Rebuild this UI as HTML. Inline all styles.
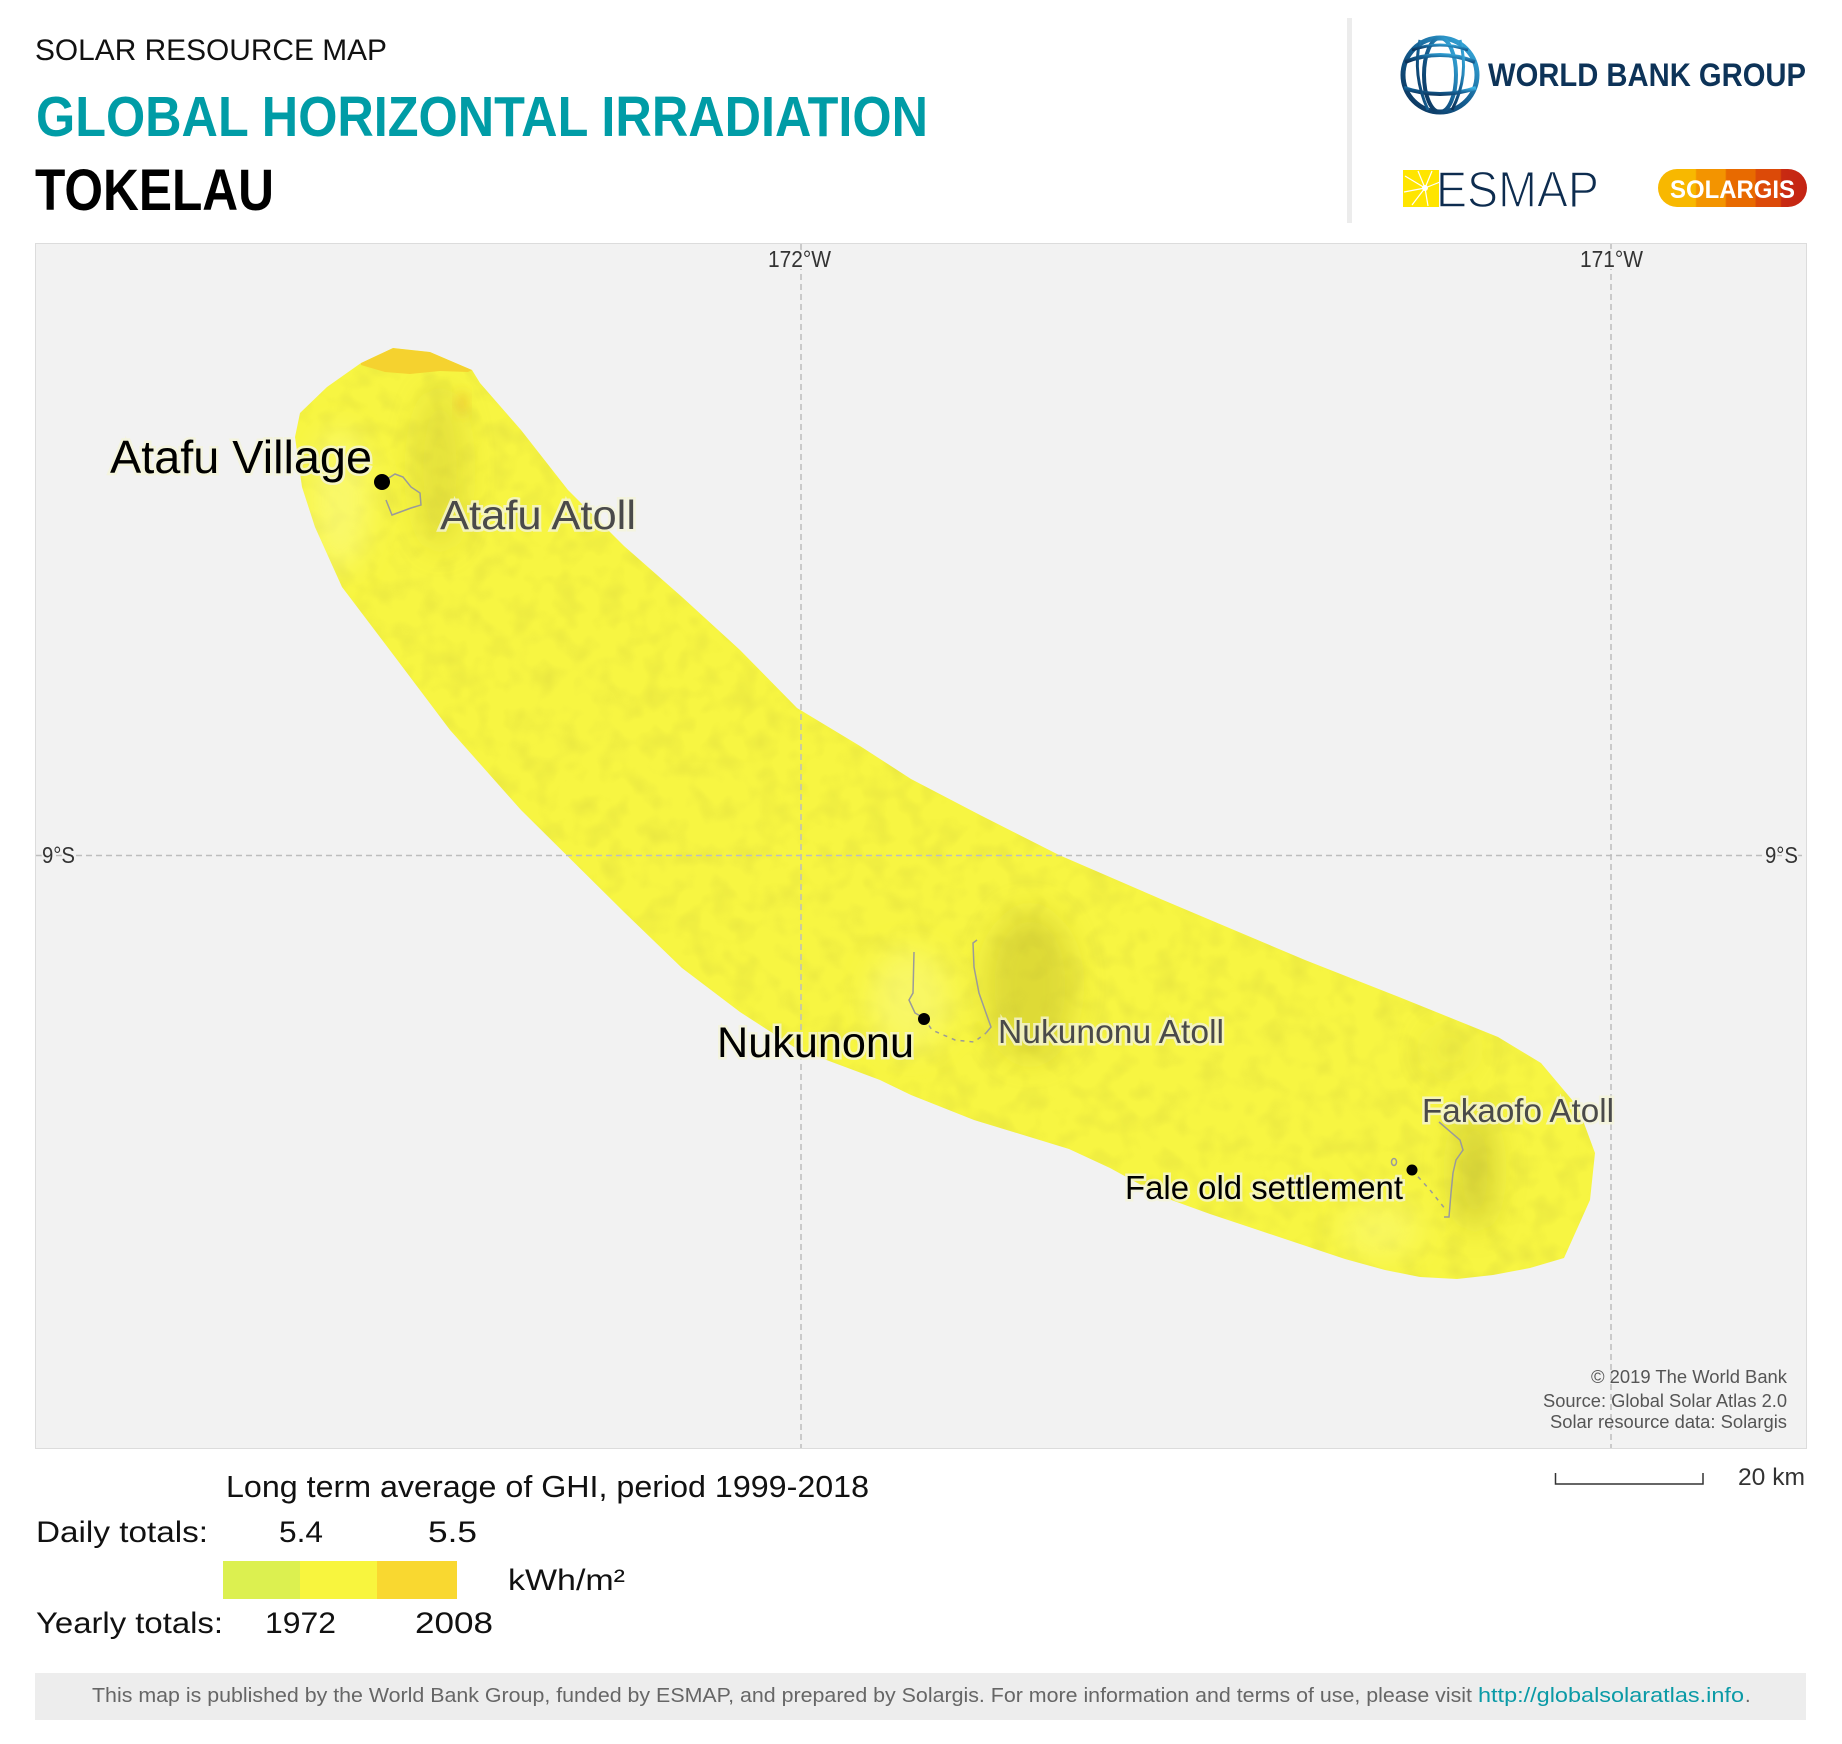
<!DOCTYPE html>
<html><head><meta charset="utf-8"><style>
html,body{margin:0;padding:0;background:#fff;}
svg{display:block;}
text{font-family:"Liberation Sans",Arial,sans-serif;}
</style></head><body>
<svg width="1842" height="1744" viewBox="0 0 1842 1744" xmlns="http://www.w3.org/2000/svg">
<defs>
<clipPath id="band"><path d="M361,363 L393,348 L430,352 L472,370 L480,383 L521,430 L568,490 L624,546 L682,597 L740,650 L797,708 L860,746 L911,779 L980,815 L1059,855 L1163,900 L1305,960 L1399,997 L1498,1037 L1541,1063 L1578,1107 L1595,1153 L1590,1200 L1564,1258 L1530,1268 L1493,1275 L1457,1279 L1420,1277 L1385,1270 L1345,1259 L1300,1244 L1258,1230 L1210,1214 L1163,1197 L1110,1168 L1069,1149 L1020,1134 L974,1120 L911,1095 L880,1080 L797,1049 L740,1012 L682,968 L624,912 L521,810 L450,730 L395,657 L342,587 L315,527 L302,487 L295,437 L300,413 L327,387 Z"/></clipPath>
<filter id="blur" x="-50%" y="-50%" width="200%" height="200%"><feGaussianBlur stdDeviation="14"/></filter>
<filter id="blur2" x="-50%" y="-50%" width="200%" height="200%"><feGaussianBlur stdDeviation="6"/></filter>
<filter id="noise" x="0" y="0" width="100%" height="100%">
<feTurbulence type="fractalNoise" baseFrequency="0.045" numOctaves="2" seed="3"/>
<feColorMatrix type="matrix" values="0 0 0 0 0.45  0 0 0 0 0.43  0 0 0 0 0.05  0 0 0 -2.2 1.25"/>
</filter>
<linearGradient id="globe" x1="0" y1="1" x2="1" y2="0">
<stop offset="0" stop-color="#0b2f55"/><stop offset="0.5" stop-color="#145e92"/><stop offset="1" stop-color="#3cb6e8"/></linearGradient>
<linearGradient id="sg" x1="0" y1="0" x2="1" y2="0">
<stop offset="0" stop-color="#f8b800"/><stop offset="0.25" stop-color="#f8b800"/>
<stop offset="0.26" stop-color="#f39400"/><stop offset="0.45" stop-color="#f39400"/>
<stop offset="0.46" stop-color="#e86a00"/><stop offset="0.65" stop-color="#e86a00"/>
<stop offset="0.66" stop-color="#dc4a08"/><stop offset="0.82" stop-color="#dc4a08"/>
<stop offset="0.83" stop-color="#c82a12"/><stop offset="1" stop-color="#c42414"/></linearGradient>
</defs>

<!-- Header -->
<text x="35" y="60" font-size="30" fill="#111" textLength="352" lengthAdjust="spacingAndGlyphs">SOLAR RESOURCE MAP</text>
<text x="36" y="136" font-size="57" font-weight="bold" fill="#009ca6" textLength="892" lengthAdjust="spacingAndGlyphs">GLOBAL HORIZONTAL IRRADIATION</text>
<text x="35" y="210" font-size="58" font-weight="bold" fill="#000" textLength="239" lengthAdjust="spacingAndGlyphs">TOKELAU</text>

<rect x="1347" y="18" width="5" height="205" fill="#ececec"/>

<!-- World Bank logo -->
<g fill="none" stroke="url(#globe)">
<circle cx="1440" cy="75" r="37" stroke-width="5"/>
<ellipse cx="1440" cy="75" rx="16" ry="37" stroke-width="4"/>
<path d="M1405,62 Q1440,48 1475,62" stroke-width="4"/>
<path d="M1404,88 Q1440,100 1476,88" stroke-width="4"/>
<path d="M1420,40 Q1412,75 1428,110" stroke-width="3"/>
<path d="M1460,40 Q1470,75 1452,110" stroke-width="3"/>
<path d="M1412,50 Q1440,40 1468,50" stroke-width="3"/>
</g>
<text x="1488" y="86" font-size="32" font-weight="bold" fill="#0d3358" textLength="318" lengthAdjust="spacingAndGlyphs">WORLD BANK GROUP</text>

<!-- ESMAP -->
<rect x="1403" y="170" width="36" height="37" fill="#ffe500"/>
<g stroke="#fff" stroke-width="1.2">
<line x1="1425" y1="188" x2="1405" y2="176"/><line x1="1425" y1="188" x2="1404" y2="192"/>
<line x1="1425" y1="188" x2="1412" y2="205"/><line x1="1425" y1="188" x2="1432" y2="171"/>
<line x1="1425" y1="188" x2="1418" y2="171"/><line x1="1425" y1="188" x2="1440" y2="182"/>
<line x1="1425" y1="188" x2="1428" y2="206"/>
</g>
<circle cx="1425" cy="188" r="3" fill="#fff"/>
<text x="1436" y="207" font-size="51" fill="#0d2c4f" stroke="#fff" stroke-width="1.4" textLength="163" lengthAdjust="spacingAndGlyphs">ESMAP</text>

<!-- SOLARGIS -->
<rect x="1658" y="169" width="149" height="38" rx="19" fill="url(#sg)"/>
<text x="1670" y="198" font-size="25" font-weight="bold" fill="#fff" textLength="125" lengthAdjust="spacingAndGlyphs">SOLARGIS</text>

<!-- Map frame -->
<rect x="35.5" y="243.5" width="1771" height="1205" fill="#f2f2f2" stroke="#dcdcdc" stroke-width="1"/>

<!-- Band -->
<g clip-path="url(#band)">
<rect x="280" y="330" width="1330" height="960" fill="#f7f542"/>
<rect x="280" y="330" width="1330" height="960" filter="url(#noise)" opacity="0.17"/>
<g filter="url(#blur)">
<ellipse cx="440" cy="470" rx="26" ry="80" fill="#bdb62c" opacity="0.3"/>
<ellipse cx="340" cy="500" rx="30" ry="70" fill="#fdfd9a" opacity="0.45"/>
<ellipse cx="1030" cy="985" rx="45" ry="75" fill="#b8b22a" opacity="0.4"/>
<ellipse cx="910" cy="1000" rx="40" ry="50" fill="#fbfb90" opacity="0.45"/>
<ellipse cx="1475" cy="1170" rx="22" ry="60" fill="#aaa428" opacity="0.4"/>
<ellipse cx="1450" cy="1050" rx="25" ry="25" fill="#c9c332" opacity="0.2"/>
<ellipse cx="1380" cy="1230" rx="40" ry="30" fill="#fbfb90" opacity="0.35"/>
</g>
<path d="M361,363 L393,348 L430,352 L472,370 L468,372 L440,371 L410,374 L385,372 L361,365 Z" fill="#f5d22f"/>
<ellipse cx="462" cy="403" rx="5" ry="10" fill="#f0c830" filter="url(#blur2)"/>
</g>

<!-- Atolls -->
<g fill="none" stroke="#9a9a9a" stroke-width="1.5">
<path d="M381,483 L395,474 L403,477 L411,487 L420,493 L421,505 L411,508 L392,515 L386,500"/>
<path d="M914,952 L913,993 L909,1000 L915,1013 L924,1018"/>
<path d="M924,1018 L932,1030 L955,1040 L974,1042 L986,1033" stroke-dasharray="4 5"/>
<path d="M986,1033 L991,1027 L986,1013 L979,993 L974,967 L973,943 L977,940"/>
<path d="M1439,1122 L1460,1140 L1463,1150 L1456,1160 L1453,1173 L1451,1193 L1449,1217 L1444,1217"/>
<path d="M1412,1170 L1430,1190 L1446,1210" stroke-dasharray="4 5"/>
<ellipse cx="1394" cy="1162" rx="2.5" ry="3.5"/>
</g>

<!-- Gridlines -->
<g stroke="#bdbdbd" stroke-width="1.5" stroke-dasharray="6 4">
<line x1="801" y1="244" x2="801" y2="1448"/>
<line x1="1611" y1="244" x2="1611" y2="1448"/>
<line x1="36" y1="855.5" x2="1806" y2="855.5"/>
</g>
<g font-size="23" fill="#333" stroke="#f2f2f2" stroke-width="4" paint-order="stroke">
<text x="768" y="267" textLength="63" lengthAdjust="spacingAndGlyphs">172°W</text>
<text x="1580" y="267" textLength="63" lengthAdjust="spacingAndGlyphs">171°W</text>
<text x="42" y="863" textLength="33" lengthAdjust="spacingAndGlyphs">9°S</text>
<text x="1765" y="863" textLength="33" lengthAdjust="spacingAndGlyphs">9°S</text>
</g>

<!-- Place labels -->
<g stroke="#f4f4d8" stroke-width="5" stroke-opacity="0.8" paint-order="stroke">
<text x="110" y="473" font-size="46" fill="#000" textLength="262" lengthAdjust="spacingAndGlyphs">Atafu Village</text>
<text x="440" y="529" font-size="41" fill="#4a4a4a" textLength="196" lengthAdjust="spacingAndGlyphs">Atafu Atoll</text>
<text x="717" y="1057" font-size="43" fill="#000" textLength="197" lengthAdjust="spacingAndGlyphs">Nukunonu</text>
<text x="998" y="1043" font-size="33" fill="#4a4a4a" textLength="226" lengthAdjust="spacingAndGlyphs">Nukunonu Atoll</text>
<text x="1422" y="1122" font-size="33" fill="#4a4a4a" textLength="192" lengthAdjust="spacingAndGlyphs">Fakaofo Atoll</text>
<text x="1125" y="1199" font-size="33" fill="#000" textLength="278" lengthAdjust="spacingAndGlyphs">Fale old settlement</text>
</g>
<circle cx="382" cy="482" r="8" fill="#000"/>
<circle cx="924" cy="1019" r="6" fill="#000"/>
<circle cx="1412" cy="1170" r="5.5" fill="#000"/>

<!-- Credits -->
<g font-size="18" fill="#555">
<text x="1591" y="1383" textLength="196" lengthAdjust="spacingAndGlyphs">© 2019 The World Bank</text>
<text x="1543" y="1407" textLength="244" lengthAdjust="spacingAndGlyphs">Source: Global Solar Atlas 2.0</text>
<text x="1550" y="1428" textLength="237" lengthAdjust="spacingAndGlyphs">Solar resource data: Solargis</text>
</g>

<!-- Scale bar -->
<path d="M1555.5,1473 V1484 H1703 V1473" fill="none" stroke="#333" stroke-width="1.5"/>
<text x="1738" y="1485" font-size="24" fill="#333" textLength="67" lengthAdjust="spacingAndGlyphs">20 km</text>

<!-- Legend -->
<g fill="#111">
<text x="226" y="1497" font-size="31" textLength="643" lengthAdjust="spacingAndGlyphs">Long term average of GHI, period 1999-2018</text>
<text x="36" y="1542" font-size="30" textLength="172" lengthAdjust="spacingAndGlyphs">Daily totals:</text>
<text x="279" y="1542" font-size="30" textLength="44" lengthAdjust="spacingAndGlyphs">5.4</text>
<text x="428" y="1542" font-size="30" textLength="49" lengthAdjust="spacingAndGlyphs">5.5</text>
<text x="508" y="1590" font-size="30" textLength="117" lengthAdjust="spacingAndGlyphs">kWh/m²</text>
<text x="36" y="1633" font-size="30" textLength="187" lengthAdjust="spacingAndGlyphs">Yearly totals:</text>
<text x="265" y="1633" font-size="30" textLength="71" lengthAdjust="spacingAndGlyphs">1972</text>
<text x="415" y="1633" font-size="30" textLength="78" lengthAdjust="spacingAndGlyphs">2008</text>
</g>
<rect x="223" y="1561" width="77" height="38" fill="#dcf050"/>
<rect x="300" y="1561" width="77" height="38" fill="#f8f53e"/>
<rect x="377" y="1561" width="80" height="38" fill="#f9d830"/>

<!-- Footer -->
<rect x="35" y="1673" width="1771" height="47" fill="#ededed"/>
<g font-size="20">
<text x="92" y="1702" fill="#666" textLength="1380" lengthAdjust="spacingAndGlyphs">This map is published by the World Bank Group, funded by ESMAP, and prepared by Solargis. For more information and terms of use, please visit</text>
<text x="1478" y="1702" fill="#0a9aa6" textLength="266" lengthAdjust="spacingAndGlyphs">http://globalsolaratlas.info</text>
<text x="1745" y="1702" fill="#666">.</text>
</g>
</svg>
</body></html>
